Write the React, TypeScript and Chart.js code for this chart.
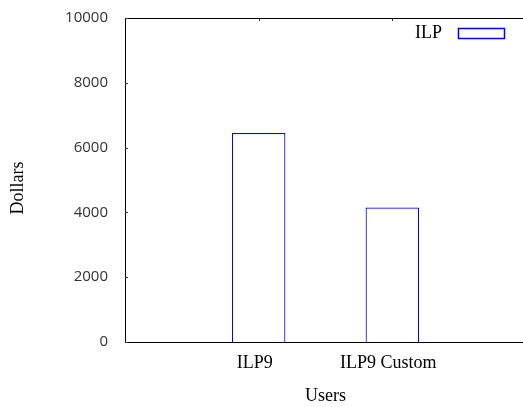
import React, { useEffect, useRef } from "react";
import { Chart, registerables } from "chart.js";

Chart.register(...registerables);

const categories = ["ILP9", "ILP9 Custom"];
const ilpValues = [6450, 4150];
const seriesName = "ILP";
const yTicks = [0, 2000, 4000, 6000, 8000, 10000];
const xTitle = "Users";
const yTitle = "Dollars";

const SERIF = "'Liberation Serif', 'Times New Roman', serif";
const SANS = "'Open Sans', 'DejaVu Sans', sans-serif";

const framePlugin = {
  id: "gnuFrame",
  afterDraw(chart: any) {
    const { ctx, chartArea } = chart;
    const { left, right, top, bottom } = chartArea;
    const xs = chart.scales.x;
    const ys = chart.scales.y;
    ctx.save();
    ctx.strokeStyle = "#000";
    ctx.lineWidth = 1;
    ctx.beginPath();
    ctx.moveTo(left + 0.5, bottom + 0.5);
    ctx.lineTo(left + 0.5, top + 0.5);
    ctx.lineTo(right + 0.5, top + 0.5);
    ctx.lineTo(right + 0.5, bottom + 0.5);
    ctx.lineTo(left + 0.5, bottom + 0.5);
    ctx.stroke();
    ctx.strokeStyle = "#333";
    ctx.beginPath();
    yTicks.forEach((v) => {
      const py = Math.round(ys.getPixelForValue(v)) + 0.5;
      ctx.moveTo(left, py);
      ctx.lineTo(left + 3, py);
      ctx.moveTo(right, py);
      ctx.lineTo(right - 3, py);
    });
    categories.forEach((_, i) => {
      const px = Math.round(xs.getPixelForValue(i)) + 0.5;
      ctx.moveTo(px, top);
      ctx.lineTo(px, top + 3);
    });
    ctx.stroke();

    // y axis title (gnuplot places it slightly below centre)
    ctx.save();
    ctx.translate(18, (top + bottom) / 2 + 8);
    ctx.rotate(-Math.PI / 2);
    ctx.fillStyle = "#000";
    ctx.font = `18px ${SERIF}`;
    ctx.textAlign = "center";
    ctx.textBaseline = "middle";
    ctx.fillText(yTitle, 0, 0);
    ctx.restore();

    // key (gnuplot style: label, then sample box)
    const ds = chart.data.datasets[0];
    const boxRight = right - 22;
    const boxLeft = boxRight - 46;
    const boxTop = top + 10;
    const boxH = 10;
    ctx.fillStyle = ds.backgroundColor;
    ctx.fillRect(boxLeft, boxTop, 46, boxH);
    ctx.strokeStyle = ds.borderColor;
    ctx.lineWidth = 1.5;
    ctx.strokeRect(boxLeft + 0.5, boxTop + 0.5, 46, boxH);
    ctx.fillStyle = "#000";
    ctx.font = `18px ${SERIF}`;
    ctx.textAlign = "right";
    ctx.textBaseline = "alphabetic";
    ctx.fillText(ds.label, boxLeft - 16, boxTop + 9.5);
    ctx.restore();
  },
};

export default function App() {
  const ref = useRef<HTMLCanvasElement | null>(null);
  useEffect(() => {
    if (!ref.current) return;
    const chart = new Chart(ref.current, {
      type: "bar",
      data: {
        datasets: [
          {
            label: seriesName,
            data: categories.map((_, i) => ({ x: i, y: ilpValues[i] })),
            backgroundColor: "#ffffff",
            borderColor: "#0000ff",
            borderWidth: 1.2,
            categoryPercentage: 1,
            barPercentage: 0.4,
          },
        ],
      },
      plugins: [framePlugin],
      options: {
        responsive: false,
        animation: false,
        devicePixelRatio: 1,
        layout: { padding: { left: 0, top: 18, right: 34, bottom: 0 } },
        plugins: {
          tooltip: { enabled: false },
          legend: { display: false },
        },
        scales: {
          x: {
            type: "linear",
            min: -1,
            max: 2,
            offset: false,
            grid: { display: false, drawTicks: false },
            border: { display: false },
            ticks: {
              stepSize: 1,
              autoSkip: false,
              maxRotation: 0,
              padding: 10,
              labelOffset: -4,
              color: "#000",
              font: { family: SERIF, size: 18 },
              callback: (v: any) => categories[v as number] ?? "",
            },
            title: {
              display: true,
              text: xTitle,
              color: "#000",
              font: { family: SERIF, size: 18 },
              padding: { top: 0, bottom: 0 },
            },
            afterFit: (s: any) => {
              s.height = 65;
            },
          },
          y: {
            min: 0,
            max: 10000,
            grid: { display: false, drawTicks: true, tickLength: 17 },
            border: { display: false },
            ticks: {
              stepSize: 2000,
              padding: 0,
              color: "#333",
              font: { family: SANS, size: 15 },
              callback: (v: any) => String(v),
            },
            afterFit: (s: any) => {
              s.width = 125;
            },
          },
        },
      },
    });
    return () => chart.destroy();
  }, []);
  return (
    <div
      style={{
        position: "fixed",
        left: 0,
        top: 0,
        width: 523,
        height: 407,
        overflow: "hidden",
        background: "#fff",
      }}
    >
      <canvas ref={ref} width={560} height={407} style={{ display: "block" }} />
    </div>
  );
}
